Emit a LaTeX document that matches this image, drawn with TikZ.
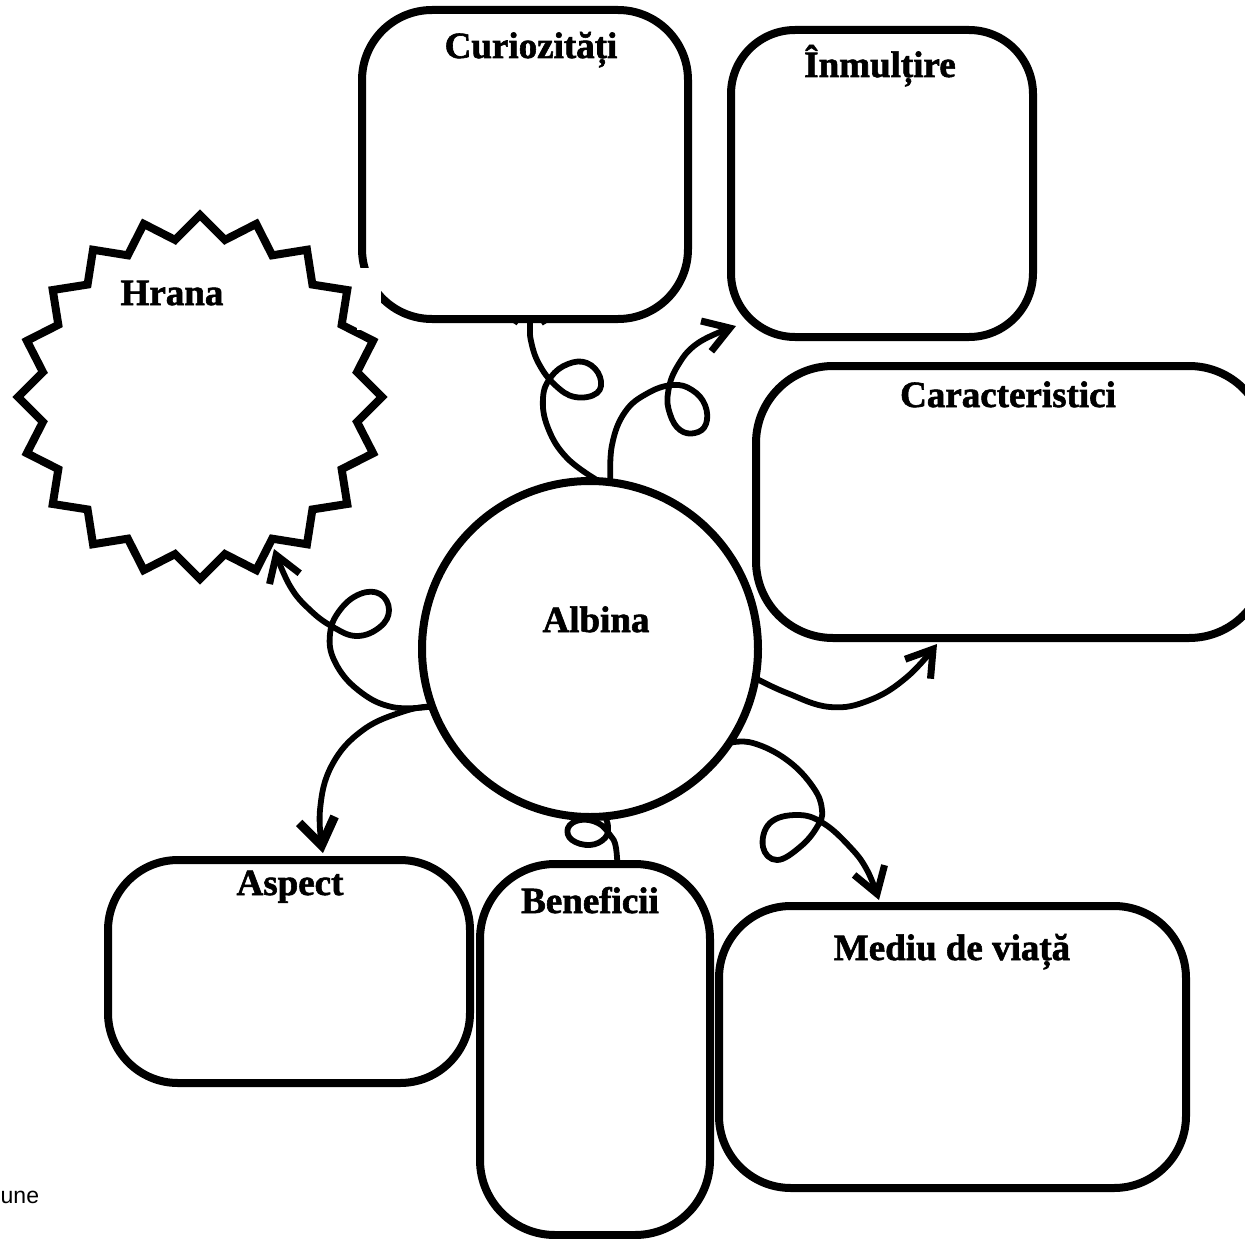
\documentclass[tikz,border=0pt]{standalone}
\usepackage{fontspec}
\setmainfont{Liberation Serif}
\newfontfamily\lblfont{Liberation Serif}[BoldFeatures={FakeBold=1.6}]
\newfontfamily\sansfnt{Liberation Sans}
\usetikzlibrary{arrows.meta,calc}
\tikzset{
  box/.style={draw, line width=8pt, fill=white, rectangle, outer sep=0pt, inner sep=0pt},
  lbl/.style={font=\lblfont\bfseries\fontsize{37}{40}\selectfont, anchor=base, inner sep=0pt},
  curl/.style={line width=5.8pt, line cap=round, line join=round},
  tipa/.style={-{Straight Barb[length=25pt,width=32pt,line width=7pt]}},
  tipb/.style={-{Straight Barb[length=26pt,width=36pt,line width=9pt]}},
}
\begin{document}
\begin{tikzpicture}[x=1pt,y=-1pt]
\useasboundingbox (0,0) rectangle (1245,1239);
\clip (0,0) rectangle (1245,1239);
\fill[white] (0,0) rectangle (1245,1239);

% central circle
\node[circle, draw, line width=8pt, minimum size=336pt, inner sep=0pt, outer sep=0pt, fill=white] (albina) at (590,649) {};

% connectors partly hidden under boxes
\coordinate (bEnd) at (530,292);
\draw[curl, tipa] plot[smooth, tension=0.7] coordinates {(albina.87) (567,458) (548,428) (543,398) (551,377) (568,364) (587,363) (600,377) (597,393) (575,397) (555,385) (539,364) (531,341) (530,323) (bEnd)};
\coordinate (eEnd) at (618,880);
\draw[curl] plot[smooth, tension=0.7] coordinates {(albina.275) (608,826) (605,838) (590,845) (572,840) (568,828) (580,820) (598,823) (610,835) (616,848) (eEnd)};

% boxes
\node[box, rounded corners=70pt, minimum width=326pt, minimum height=309pt] (curio) at (525,164.5) {};
\node[box, rounded corners=64pt, minimum width=302pt, minimum height=307pt] (inmul) at (882,183.5) {};
\node[box, rounded corners=77pt, minimum width=510pt, minimum height=272pt] (carac) at (1011,502) {};
\node[box, rounded corners=70pt, minimum width=362pt, minimum height=223pt] (aspect) at (289,971.5) {};
\node[box, rounded corners=75pt, minimum width=230pt, minimum height=371pt] (benef) at (595,1049.5) {};
\node[box, rounded corners=72pt, minimum width=467pt, minimum height=282pt] (mediu) at (952.5,1047) {};

% starburst
\coordinate (hc) at (200,397);
\draw[line width=8pt, line join=miter, fill=white] ($(hc)+(90:182)$)
  \foreach \k [evaluate=\k as \r using {182-23*mod(\k,2)}] in {1,...,39} { -- ($(hc)+({90+9*\k}:\r)$) } -- cycle;
\fill[white] (357,268) rectangle (381,330);

% connectors
\coordinate (iEnd) at (736,326);
\draw[curl, tipa] plot[smooth, tension=0.7] coordinates {(albina.83) (612,445) (625,412) (648,393) (673,385) (692,390) (705,405) (706,424) (695,433) (680,430) (670,414) (668,393) (677,367) (698,343) (iEnd)};
\coordinate (hEnd) at (274,549);
\draw[curl, tipa] plot[smooth, tension=0.7] coordinates {(albina.200) (392,707) (358,690) (335,662) (330,634) (340,610) (360,594) (380,594) (389,610) (380,627) (357,636) (333,627) (310,610) (290,586) (hEnd)};
\coordinate (aEnd) at (323,853);
\draw[curl, tipb] plot[smooth, tension=0.7] coordinates {(albina.200) (405,711) (363,730) (332,765) (320,810) (aEnd)};
\coordinate (cEnd) at (937,644);
\draw[curl, tipa] plot[smooth, tension=0.7] coordinates {(albina.350) (787,693) (830,707) (870,700) (907,677) (cEnd)};
\coordinate (mEnd) at (879,900);
\draw[curl, tipa] plot[smooth, tension=0.7] coordinates {(albina.326) (753,743) (787,760) (813,787) (822,810) (817,827) (800,847) (777,860) (763,847) (770,823) (797,815) (823,823) (850,847) (867,870) (mEnd)};

% labels
\node[lbl] (tcurio) at (531,58) {Curiozități};
\node[lbl] (tinmul) at (880,77) {Înmulțire};
\node[lbl] (thrana) at (172,305) {Hrana};
\node[lbl] (tcarac) at (1008,407) {Caracteristici};
\node[lbl] (talbina) at (596,632) {Albina};
\node[lbl] (taspect) at (290,895) {Aspect};
\node[lbl] (tbenef) at (590,913) {Beneficii};
\node[lbl] (tmediu) at (952,960) {Mediu de viață};
\node[anchor=base west, inner sep=0pt, font=\sansfnt\fontsize{23}{27}\selectfont] (une) at (0.5,1203) {une};
\end{tikzpicture}
\end{document}
